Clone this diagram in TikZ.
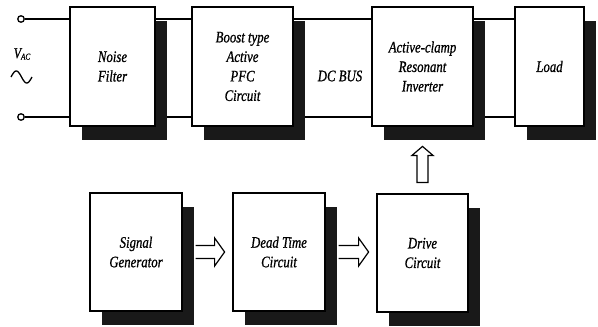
\documentclass[tikz,border=0pt]{standalone}
\usepackage{fontspec}
\newfontfamily\lbl[FakeStretch=0.8, FakeBold=0.8]{Liberation Serif}
\usetikzlibrary{shadows,calc}
\tikzset{
  blk/.style={draw=black, line width=1.2pt, fill=white,
    drop shadow={shadow xshift=12pt, shadow yshift=-14pt, fill=black!90, opacity=1},
    align=center, inner sep=0pt,
    font=\lbl\itshape\fontsize{16}{19.5}\selectfont},
  wire/.style={line width=1.2pt},
  term/.style={circle, draw, line width=1.3pt, fill=white, minimum size=6.5pt, inner sep=0pt},
  fatarrow/.style={draw, line width=1.2pt, fill=white, line join=miter},
  txt/.style={font=\lbl\itshape\fontsize{16}{19.5}\selectfont, inner sep=0pt}
}
\begin{document}
\begin{tikzpicture}[x=1pt, y=-1pt]
\useasboundingbox (0,0) rectangle (598,327);

% terminals and supply label
\node[term] (t1) at (21,19) {};
\node[term] (t2) at (21,117) {};
\node[txt, font=\lbl\itshape\fontsize{15}{15}\selectfont] (vac) at (22,54)
  {V\raisebox{-1.5pt}{\fontsize{9}{9}\selectfont AC}};
\draw[line width=1.3pt] plot[domain=0:360, samples=40, smooth]
  ({11+\x/360*21}, {77-6*sin(\x)});

% power-stage wires, drawn first so boxes cover them
\draw[wire] (t1) -- (t1 -| 75,0);
\draw[wire] (t2) -- (t2 -| 75,0);
\draw[wire] (112,19) -- (240,19);
\draw[wire] (112,117) -- (240,117);
\draw[wire] (240,19) -- (420,19);
\draw[wire] (240,117) -- (420,117);
\draw[wire] (420,19) -- (550,19);
\draw[wire] (420,117) -- (550,117);

% power-stage blocks
\node[blk, minimum width=85pt, minimum height=119pt] (noise) at (112.5,66.5) {Noise\\Filter};
\node[blk, minimum width=101pt, minimum height=119pt] (boost) at (242.5,66.5) {Boost type\\Active\\PFC\\Circuit};
\node[blk, minimum width=101pt, minimum height=119pt] (inv) at (422.5,66.5) {Active-clamp\\Resonant\\Inverter};
\node[blk, minimum width=69pt, minimum height=119pt] (load) at (549.5,66.5) {Load};

\node[txt] (dcbus) at (340,76) {DC BUS};

% control-stage blocks
\node[blk, minimum width=92pt, minimum height=118pt] (sig) at (136,252) {Signal\\Generator};
\node[blk, minimum width=92pt, minimum height=118pt] (dead) at (279,252) {Dead Time\\Circuit};
\node[blk, minimum width=91pt, minimum height=118pt] (drive) at (422.5,253) {Drive\\Circuit};

% hollow block arrows
\draw[fatarrow] ($(sig.east)+(13,-6.5)$) -- ++(19,0) -- ++(0,-7.5) -- ++(10,14) -- ++(-10,14) -- ++(0,-7.5) -- ++(-19,0);
\draw[fatarrow] ($(dead.east)+(13,-6.5)$) -- ++(20,0) -- ++(0,-7.5) -- ++(10,14) -- ++(-10,14) -- ++(0,-7.5) -- ++(-20,0);
\draw[fatarrow] ($(drive.north)+(-5.5,-11)$) -- ++(0,-27) -- ++(-5,0) -- ++(10.5,-9) -- ++(10.5,9) -- ++(-5,0) -- ++(0,27) -- cycle;
\end{tikzpicture}
\end{document}
